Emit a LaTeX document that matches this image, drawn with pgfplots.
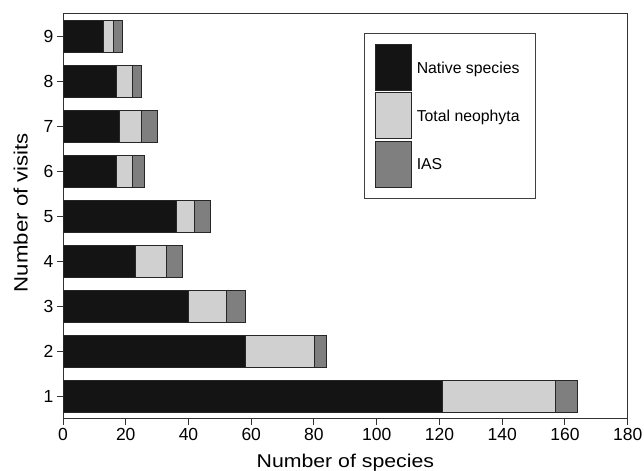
\documentclass[border=0pt]{standalone}
\usepackage{fontspec}
\setmainfont{Liberation Sans}
\newfontfamily\labelfont[FakeStretch=1.15]{Liberation Sans}
\usepackage{pgfplots}
\pgfplotsset{compat=1.18}
\usetikzlibrary{calc}
\definecolor{native}{HTML}{141414}
\definecolor{neo}{HTML}{D0D0D0}
\definecolor{ias}{HTML}{7F7F7F}
\pgfplotsset{myleg/.style={legend image code/.code={\draw[##1, line width=0.8bp] (0bp,-22bp) rectangle (36bp,24bp);}}}
\begin{document}
\begin{tikzpicture}
\begin{axis}[
  name=ax,
  scale only axis, width=564.7bp, height=405bp,
  xbar stacked, bar width=32bp,
  xmin=0, xmax=180, ymin=0.5, ymax=9.5,
  xtick={0,20,...,180}, ytick={1,...,9},
  tick align=outside, xtick pos=bottom, ytick pos=left,
  major tick length=6bp,
  axis line style={black!80, line width=1bp},
  every tick/.style={black!80, line width=1bp},
  /pgf/number format/assume math mode=true,
  ticklabel style={font=\fontsize{17.5bp}{20bp}\selectfont},
  xlabel={Number of species}, ylabel={Number of visits},
  every axis x label/.style={at={(axis description cs:0.5,0)}, anchor=north, yshift=-35bp, inner sep=0pt, font=\labelfont\fontsize{18.5bp}{22bp}\selectfont},
  every axis y label/.style={at={(axis description cs:0,0.5)}, rotate=90, anchor=south, yshift=35bp, xshift=4bp, inner sep=0pt, font=\labelfont\fontsize{19.3bp}{22bp}\selectfont},
  legend cell align=left,
  legend style={at={(0.533,0.954)}, anchor=north west, draw=black!75, line width=1bp,
    inner xsep=11bp, inner ysep=11bp, font=\fontsize{15.8bp}{18bp}\selectfont,
    row sep=1.5bp, column sep=0bp, nodes={inner xsep=4.5bp, inner ysep=0bp}},
]
\addplot[fill=native, draw=black!85, line width=0.8bp, myleg] coordinates {
(121,1) (58,2) (40,3) (23,4) (36,5) (17,6) (18,7) (17,8) (13,9)};
\addplot[fill=neo, draw=black!85, line width=0.8bp, myleg] coordinates {
(36,1) (22,2) (12,3) (10,4) (6,5) (5,6) (7,7) (5,8) (3,9)};
\addplot[fill=ias, draw=black!85, line width=0.8bp, myleg] coordinates {
(7,1) (4,2) (6,3) (5,4) (5,5) (4,6) (5,7) (3,8) (3,9)};
\legend{Native species, Total neophyta, IAS}
\end{axis}
\pgfresetboundingbox
\path[use as bounding box] ($(ax.south west)+(-63bp,-52bp)$) rectangle ($(ax.north east)+(16.3bp,14bp)$);
\end{tikzpicture}
\end{document}
